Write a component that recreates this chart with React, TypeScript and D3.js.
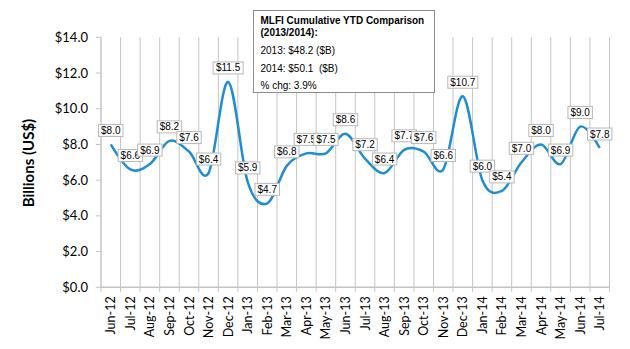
import React from "react";
import * as d3 from "d3";

const months = ["Jun-12","Jul-12","Aug-12","Sep-12","Oct-12","Nov-12","Dec-12","Jan-13","Feb-13","Mar-13","Apr-13","May-13","Jun-13","Jul-13","Aug-13","Sep-13","Oct-13","Nov-13","Dec-13","Jan-14","Feb-14","Mar-14","Apr-14","May-14","Jun-14","Jul-14"];
const values = [8.0,6.6,6.9,8.2,7.6,6.4,11.5,5.9,4.7,6.8,7.5,7.5,8.6,7.2,6.4,7.7,7.6,6.6,10.7,6.0,5.4,7.0,8.0,6.9,9.0,7.8];
const yTicks = [0,2,4,6,8,10,12,14];
const noteTitle = ["MLFI Cumulative YTD Comparison", "(2013/2014):"];
const noteLines = ["2013: $48.2 ($B)", "2014: $50.1  ($B)", "% chg: 3.9%"];

const W = 630, H = 349;
const L = 101, R = 609.5, T = 37.3, B = 287.3;
const gridColor = "#c4c4c4";
const lineColor = "#1f8dd4";

function textWidth(s: string) {
  const w: Record<string, number> = { "$": 556, ".": 278, "0": 556, "1": 556, "2": 556, "3": 556, "4": 556, "5": 556, "6": 556, "7": 556, "8": 556, "9": 556 };
  let t = 0;
  for (const c of s) t += w[c] ?? 556;
  return (t / 1000) * 10;
}

export default function App() {
  const x = d3.scaleBand<string>().domain(months).range([L, R]).padding(0);
  const y = d3.scaleLinear().domain([0, 14]).range([B, T]);
  const cx = (m: string) => (x(m) as number) + x.bandwidth() / 2;
  const line = d3
    .line<number>()
    .x((_, i) => cx(months[i]))
    .y((v) => y(v))
    .curve(d3.curveCardinal.tension(0));
  const boundaries = months.map((m) => x(m) as number).concat([R]);
  const sans = "'Liberation Sans', Arial, sans-serif";
  const cal = "Lato, 'Open Sans', sans-serif";

  return (
    <svg width={W} height={H} style={{ position: "absolute", left: 0, top: 0, background: "#fff" }}>
      <rect x={0} y={0} width={W} height={H} fill="#fff" />
      {boundaries.map((bx, i) => (
        <line key={"g" + i} x1={bx} x2={bx} y1={T} y2={B + 4.5} stroke={gridColor} strokeWidth={1} />
      ))}
      <line x1={L} x2={L} y1={T} y2={B} stroke={gridColor} strokeWidth={1} />
      {yTicks.map((t) => (
        <g key={"y" + t}>
          <line x1={L - 5} x2={L} y1={y(t)} y2={y(t)} stroke={gridColor} strokeWidth={1} />
          <text x={88} y={y(t)} dy="0.35em" textAnchor="end" fontFamily={cal} fontSize={13} fill="#000">
            {"$" + t.toFixed(1)}
          </text>
        </g>
      ))}
      <line x1={L} x2={R} y1={B} y2={B} stroke={gridColor} strokeWidth={1.5} />
      {months.map((m) => (
        <text
          key={"m" + m}
          transform={`translate(${cx(m) + 4.5},${B + 9}) rotate(-90)`}
          textAnchor="end"
          fontFamily={cal}
          fontSize={12.5}
          fill="#000"
        >
          {m}
        </text>
      ))}
      <text
        transform={`translate(34,163) rotate(-90)`}
        textAnchor="middle"
        fontFamily={cal}
        fontWeight="bold"
        fontSize={15}
        fill="#000"
      >
        Billions (US$)
      </text>
      <path d={line(values) || ""} fill="none" stroke={lineColor} strokeWidth={2.5} />
      {values.map((v, i) => {
        const label = "$" + v.toFixed(1);
        const tw = textWidth(label);
        const bw = tw + 5;
        const px = cx(months[i]);
        const py = y(v);
        const bottom = py - 8;
        return (
          <g key={"l" + i}>
            <rect x={px - bw / 2} y={bottom - 12} width={bw} height={12} fill="#fff" stroke="#b8b8b8" strokeWidth={1} />
            <text x={px} y={bottom - 2.5} textAnchor="middle" fontFamily={sans} fontSize={10} fill="#000">
              {label}
            </text>
          </g>
        );
      })}
      <rect x={253.5} y={10.5} width={181} height={82} fill="#fff" stroke="#8c8c8c" strokeWidth={1} />
      {noteTitle.map((s, i) => (
        <text key={"t" + i} x={260.5} y={24 + i * 11.5} fontFamily={sans} fontSize={10} fontWeight="bold" fill="#000">
          {s}
        </text>
      ))}
      {noteLines.map((s, i) => (
        <text key={"n" + i} x={260.5} y={54 + i * 17.5} fontFamily={sans} fontSize={10} fill="#000" style={{ whiteSpace: "pre" }}>
          {s}
        </text>
      ))}
    </svg>
  );
}
